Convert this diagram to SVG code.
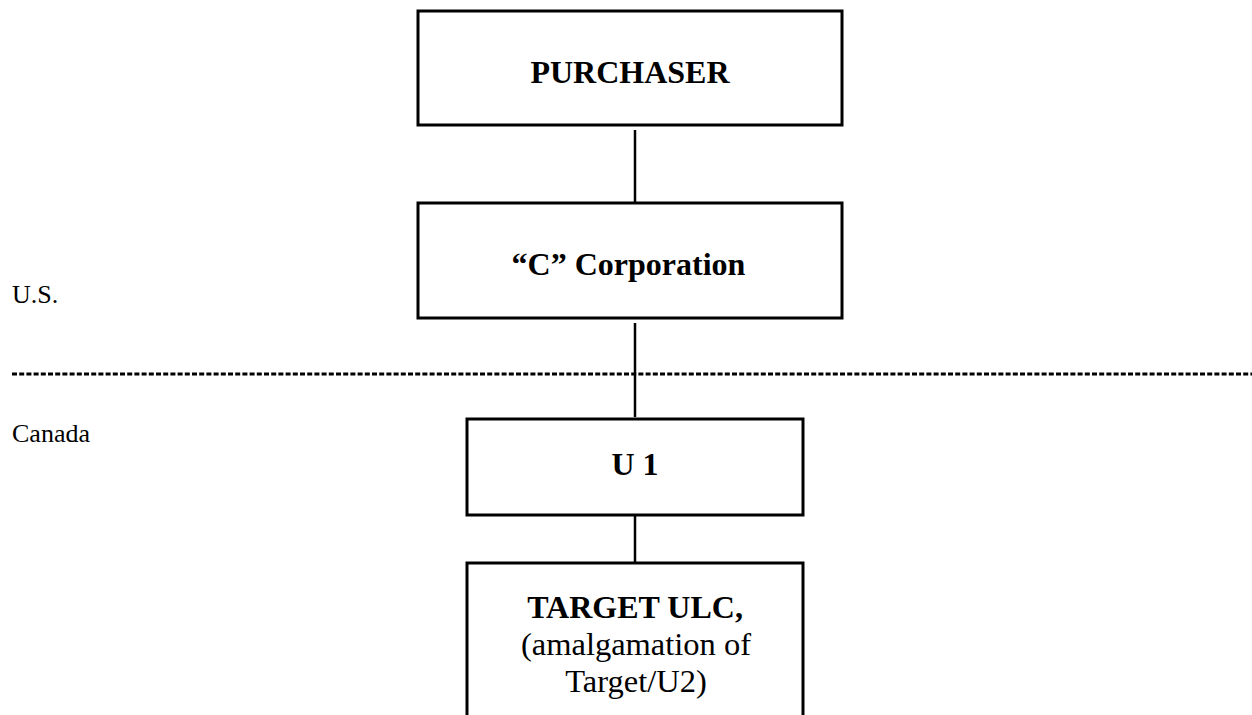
<svg xmlns="http://www.w3.org/2000/svg" width="1252" height="715" viewBox="0 0 1252 715">
<style>
.box{fill:#fff;stroke:#000;stroke-width:3}
.conn{stroke:#000;stroke-width:2.5;fill:none}
.b{font-family:"Liberation Serif","Times New Roman",serif;font-weight:bold;font-size:32px;text-anchor:middle;fill:#000}
.r{font-family:"Liberation Serif","Times New Roman",serif;font-size:32.5px;text-anchor:middle;fill:#000}
.side{font-family:"Liberation Serif","Times New Roman",serif;font-size:26px;fill:#000}
</style>
<rect width="1252" height="715" fill="#fff"/>
<g id="connectors">
<line class="conn" x1="635" y1="130" x2="635" y2="203"/>
<line class="conn" x1="635" y1="323" x2="635" y2="417"/>
<line class="conn" x1="635" y1="515" x2="635" y2="563"/>
</g>
<g id="border">
<line x1="12" y1="374" x2="1252" y2="374" stroke="#000" stroke-width="3" stroke-dasharray="5,2.2"/>
<text class="side" x="12" y="303">U.S.</text>
<text class="side" x="12" y="442">Canada</text>
</g>
<g id="purchaser">
<rect class="box" x="418" y="11" width="424" height="114"/>
<text class="b" x="630" y="83">PURCHASER</text>
</g>
<g id="c-corporation">
<rect class="box" x="418" y="203" width="424" height="115"/>
<text class="b" x="628.5" y="275">“C” Corporation</text>
</g>
<g id="u1">
<rect class="box" x="467" y="419" width="336" height="96"/>
<text class="b" x="635" y="475">U 1</text>
</g>
<g id="target-ulc">
<rect class="box" x="467" y="563" width="336" height="170"/>
<text class="b" x="635" y="618">TARGET ULC,</text>
<text class="r" x="636" y="655">(amalgamation of</text>
<text class="r" x="636" y="692">Target/U2)</text>
</g>
</svg>
